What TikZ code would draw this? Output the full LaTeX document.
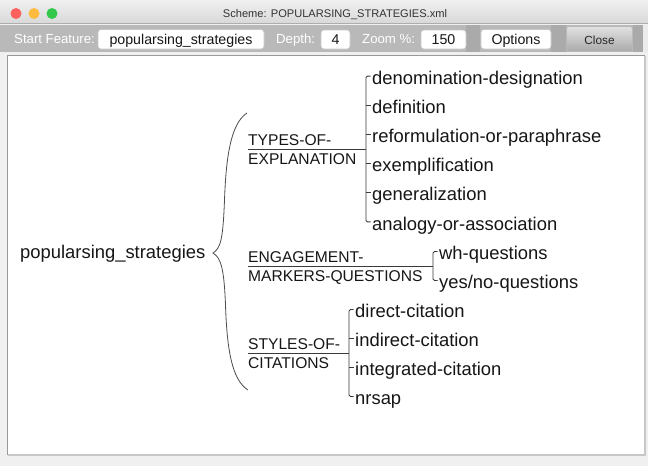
\documentclass[tikz,border=0pt]{standalone}
\usepackage{fontspec}
\setmainfont{Liberation Sans}
\definecolor{txt}{HTML}{161616}
\definecolor{ln}{HTML}{3A3A3A}
\definecolor{tbar}{HTML}{B9B9B9}
\definecolor{tbdark}{HTML}{AAAAAA}
\begin{document}
\begin{tikzpicture}[x=1pt,y=-1pt,
  child/.style={anchor=base west, inner sep=0pt, text=txt, font=\fontsize{18.4}{22}\selectfont},
  sublab/.style={anchor=base west, inner sep=0pt, text=txt, font=\fontsize{15.6}{18}\selectfont},
  rootlab/.style={anchor=base west, inner sep=0pt, text=txt, font=\fontsize{18.4}{22}\selectfont},
  conn/.style={draw=ln, line width=0.9pt},
  tbox/.style={fill=white, draw=black!22, line width=0.6pt, rounded corners=3pt},
  tblabel/.style={anchor=base west, inner sep=0pt, text=white, font=\fontsize{13.2}{15}\selectfont},
  tbtext/.style={anchor=base, inner sep=0pt, text=txt, font=\fontsize{14.2}{16}\selectfont},
  light/.style={circle, inner sep=0pt, minimum size=11pt}
]
\useasboundingbox (0,0) rectangle (648,466);
% window background
\fill[black!6] (0,0) rectangle (648,466);
% title bar
\shade[top color=black!6, bottom color=black!15] (0,0) rectangle (648,23);
\draw[black!32, line width=1pt] (0,23.5) -- (648,23.5);
\node[light, fill={rgb,255:red,252;green,96;blue,92}] (red) at (16,13.5) {};
\node[light, fill={rgb,255:red,253;green,188;blue,64}] (amber) at (34,13.5) {};
\node[light, fill={rgb,255:red,52;green,200;blue,74}] (green) at (52,13.5) {};
\node[anchor=base, inner sep=0pt, text=black!80, font=\fontsize{11.1}{13}\selectfont] (title) at (335,17) {Scheme: POPULARSING\_STRATEGIES.xml};
% toolbar
\fill[tbar] (0,24.5) rectangle (648,51.5);
\fill[tbdark] (466,24.5) rectangle (480,51.5);
\fill[tbdark] (551,24.5) rectangle (566,51.5);
\fill[tbdark] (633,24.5) rectangle (643,51.5);
\fill[black!8] (643,24.5) rectangle (648,51.5);
\node[tblabel] (lstart) at (14,43) {Start Feature:};
\draw[tbox] (98,29.5) rectangle (264,49);
\node[tbtext] (vstart) at (181,44) {popularsing\_strategies};
\node[tblabel] (ldepth) at (276,43) {Depth:};
\draw[tbox] (321,30) rectangle (350,49);
\node[tbtext] (vdepth) at (335.5,44) {4};
\node[tblabel] (lzoom) at (362,43) {Zoom \%:};
\draw[tbox] (421,30) rectangle (466,49);
\node[tbtext] (vzoom) at (443.5,44) {150};
\draw[tbox] (481,29.5) rectangle (551,49);
\node[tbtext] (opts) at (516,44) {Options};
\shade[top color=black!12, bottom color=black!33, rounded corners=2pt] (567,27) rectangle (632,51);
\node[anchor=base, inner sep=0pt, text=black!85, font=\fontsize{11.8}{14}\selectfont] (close) at (599.5,44.5) {Close};
% canvas
\fill[white] (7,55.5) rectangle (645,455);
\draw[black!40, line width=1.4pt] (7.5,455) -- (7.5,55.5) -- (645,55.5);
\draw[black!22, line width=1.2pt] (645,55.5) -- (645,455) -- (7.5,455);

% root
\node[rootlab] (root) at (20,258.5) {popularsing\_strategies};
\coordinate (tip) at (213,253);
\coordinate (btop) at (247,113);
\coordinate (bbot) at (248,390);
\draw[black!70, line width=0.8pt] (btop) .. controls (230,124) and (226,160) .. (224.5,200)
   .. controls (223,238) and (221,248) .. (tip)
   .. controls (221,258) and (224,268) .. (225.5,305)
   .. controls (227,350) and (232,380) .. (bbot);

% group 1: TYPES-OF-EXPLANATION
\node[sublab] (g1a) at (248,145.5) {TYPES-OF-};
\node[sublab] (g1b) at (248,164.5) {EXPLANATION};
\coordinate (g1l) at (248,149);
\coordinate (g1v) at (366,149);
\draw[conn] (g1l) -- (g1v);
\foreach \n/\t/\y in {c11/denomination-designation/76.1, c12/definition/105.3, c13/reformulation-or-paraphrase/134.4, c14/exemplification/163.6, c15/generalization/192.7, c16/analogy-or-association/221.9}{
  \node[child] (\n) at (372,\y+8.2) {\t};
  \coordinate (\n t) at (366,\y);
}
\draw[conn, rounded corners=1.5pt] ([xshift=-1.5pt]c11.west |- c11t) -- (c11t) -- (c16t) -- ([xshift=-1.5pt]c16.west |- c16t);
\foreach \n in {c12,c13,c14,c15}{\draw[conn] (\n t) -- ([xshift=-1.5pt]\n.west |- \n t);}

% group 2: ENGAGEMENT-MARKERS-QUESTIONS
\node[sublab] (g2a) at (248,262.5) {ENGAGEMENT-};
\node[sublab] (g2b) at (248,281.5) {MARKERS-QUESTIONS};
\coordinate (g2l) at (248,266);
\coordinate (g2v) at (433,266);
\draw[conn] (g2l) -- (g2v);
\foreach \n/\t/\y in {c21/wh-questions/251.5, c22/yes\slash no-questions/280.5}{
  \node[child] (\n) at (439,\y+8.2) {\t};
  \coordinate (\n t) at (433,\y);
}
\draw[conn, rounded corners=1.5pt] ([xshift=-1.5pt]c21.west |- c21t) -- (c21t) -- (c22t) -- ([xshift=-1.5pt]c22.west |- c22t);

% group 3: STYLES-OF-CITATIONS
\node[sublab] (g3a) at (248,349.5) {STYLES-OF-};
\node[sublab] (g3b) at (248,368.5) {CITATIONS};
\coordinate (g3l) at (248,353);
\coordinate (g3v) at (349,353);
\draw[conn] (g3l) -- (g3v);
\foreach \n/\t/\y in {c31/direct-citation/309.5, c32/indirect-citation/338.5, c33/integrated-citation/367.5, c34/nrsap/396.5}{
  \node[child] (\n) at (355,\y+8.2) {\t};
  \coordinate (\n t) at (349,\y);
}
\draw[conn, rounded corners=1.5pt] ([xshift=-1.5pt]c31.west |- c31t) -- (c31t) -- (c34t) -- ([xshift=-1.5pt]c34.west |- c34t);
\foreach \n in {c32,c33}{\draw[conn] (\n t) -- ([xshift=-1.5pt]\n.west |- \n t);}
\end{tikzpicture}
\end{document}
